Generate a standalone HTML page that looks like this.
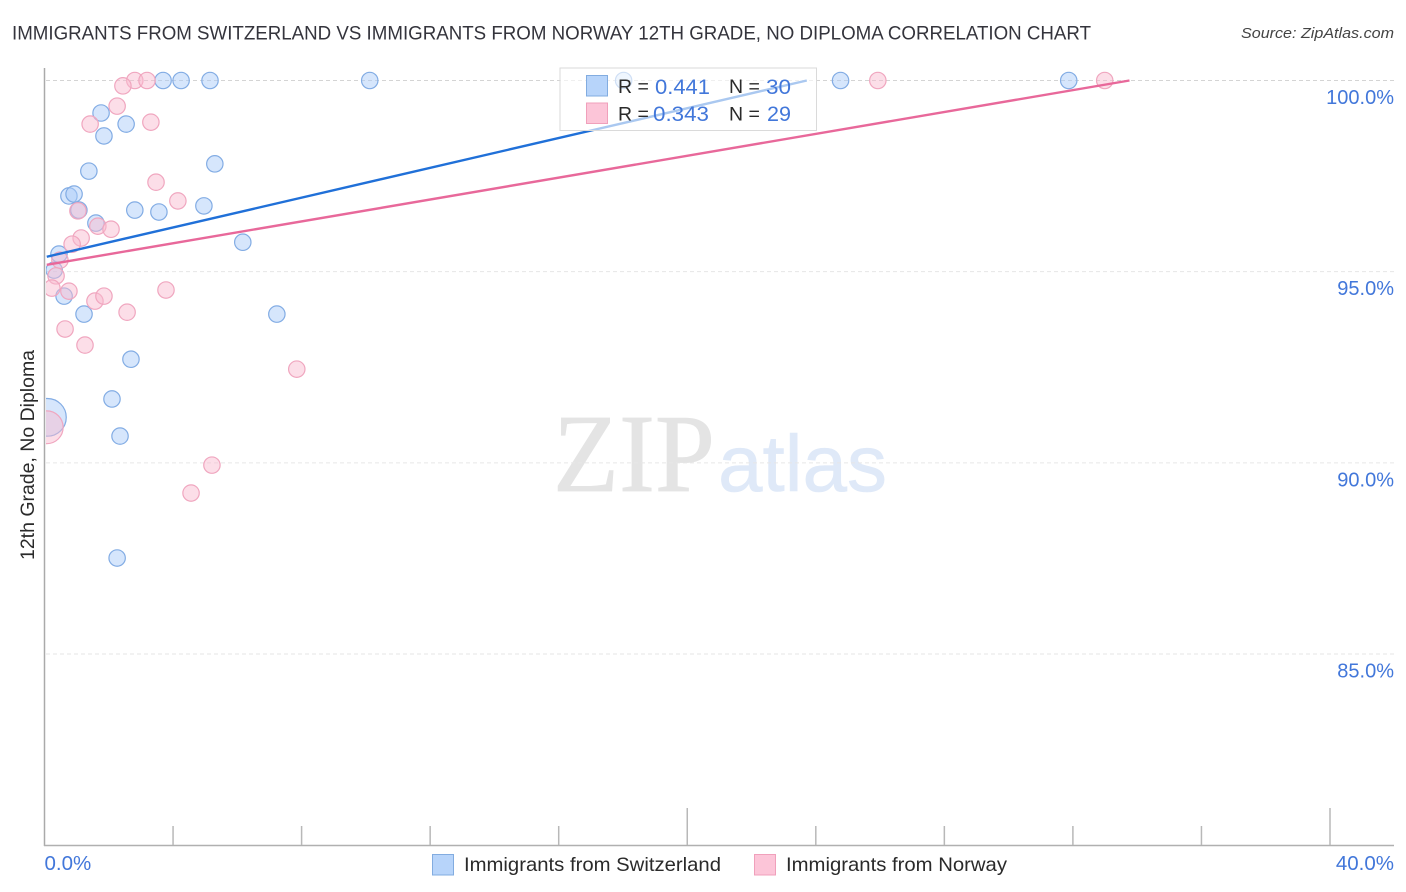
<!DOCTYPE html>
<html lang="en">
<head>
<meta charset="utf-8">
<title>Immigrants from Switzerland vs Immigrants from Norway 12th Grade, No Diploma Correlation Chart</title>
<style>
html,body{margin:0;padding:0;background:#fff;width:1406px;height:892px;overflow:hidden}
svg{display:block;font-family:"Liberation Sans",sans-serif}
</style>
</head>
<body>
<svg id="chart" xmlns="http://www.w3.org/2000/svg" width="1406" height="892" viewBox="0 0 1406 892">
  <defs><clipPath id="plot-clip"><rect x="46" y="60" width="1348" height="786"/></clipPath></defs>
  <text x="12" y="39.5" font-size="19.5" fill="#34343c" textLength="1079" lengthAdjust="spacingAndGlyphs">IMMIGRANTS FROM SWITZERLAND VS IMMIGRANTS FROM NORWAY 12TH GRADE, NO DIPLOMA CORRELATION CHART</text>
  <text x="1394" y="38" font-size="15" font-style="italic" fill="#444" text-anchor="end" textLength="153" lengthAdjust="spacingAndGlyphs">Source: ZipAtlas.com</text>
  <g>
    <text x="553" y="491" font-family="'Liberation Serif',serif" font-size="111" fill="#e4e4e4" stroke="#e4e4e4" stroke-width="0.8" textLength="162" lengthAdjust="spacingAndGlyphs">ZIP</text>
    <text x="718" y="491" font-size="80" fill="#dfe9f8" stroke="#dfe9f8" stroke-width="0.6" textLength="169" lengthAdjust="spacingAndGlyphs">atlas</text>
  </g>
  <g id="grid"></g>
  <g id="points" clip-path="url(#plot-clip)"></g>
  <rect x="0" y="60" width="45.5" height="786" fill="#fff"/>
  <g id="axes"></g>
  <g id="trends"></g>
  <text transform="translate(34,455) rotate(-90)" font-size="19" fill="#2a2a2a" text-anchor="middle" textLength="210" lengthAdjust="spacingAndGlyphs">12th Grade, No Diploma</text>
  <g>
    <rect x="560" y="68" width="256.5" height="62.5" fill="#fff" fill-opacity="0.62" stroke="#dadada" stroke-width="1"/>
    <rect x="586.5" y="75.5" width="21" height="20.5" fill="#b7d4fa" stroke="#82ace0"/>
    <rect x="586.5" y="103" width="21" height="20.5" fill="#fcc5d8" stroke="#f0a0bb"/>
    <g font-size="19.5" fill="#2a2a2a">
      <text x="618" y="93">R =</text>
      <text x="618" y="120.5">R =</text>
      <text x="729" y="93">N =</text>
      <text x="729" y="120.5">N =</text>
    </g>
    <g font-size="21" fill="#4277da">
      <text x="655" y="94" textLength="55" lengthAdjust="spacingAndGlyphs">0.441</text>
      <text x="653" y="121" textLength="56" lengthAdjust="spacingAndGlyphs">0.343</text>
      <text x="766" y="94" textLength="25" lengthAdjust="spacingAndGlyphs">30</text>
      <text x="767" y="121" textLength="24" lengthAdjust="spacingAndGlyphs">29</text>
    </g>
  </g>
  <g>
    <rect x="432.5" y="854.5" width="21" height="20.5" fill="#b7d4fa" stroke="#82ace0"/>
    <text x="464" y="871" font-size="19.5" fill="#2a2a2a" textLength="257" lengthAdjust="spacingAndGlyphs">Immigrants from Switzerland</text>
    <rect x="754.5" y="854.5" width="21" height="20.5" fill="#fcc5d8" stroke="#f0a0bb"/>
    <text x="786" y="871" font-size="19.5" fill="#2a2a2a" textLength="221" lengthAdjust="spacingAndGlyphs">Immigrants from Norway</text>
  </g>
</svg>
<script>
const yTickValues = [100, 95, 90, 85];
const yTickLabels = ["100.0%", "95.0%", "90.0%", "85.0%"];
const xTickValues = [0, 4, 8, 12, 16, 20, 24, 28, 32, 36, 40];
const xEndLabels = ["0.0%", "40.0%"];

const switzerlandX = [3.69, 4.25, 5.15, 10.12, 18.02, 24.77, 31.87, 1.76, 2.54, 1.85, 1.38, 5.30, 0.76, 0.92, 1.07, 2.81, 3.56, 4.96, 1.60, 6.17, 0.45, 0.30, 0.61, 1.23, 7.23, 2.69, 2.10, 2.35, 2.26, 0.09];
const switzerlandY = [100, 100, 100, 100, 100, 100, 100, 99.15, 98.86, 98.55, 97.63, 97.82, 96.98, 97.03, 96.61, 96.61, 96.56, 96.72, 96.27, 95.77, 95.46, 95.04, 94.36, 93.89, 93.89, 92.71, 91.67, 90.70, 87.51, 91.19];
const switzerlandWeight = [1, 1, 1, 1, 1, 1, 1, 1, 1, 1, 1, 1, 1, 1, 1, 1, 1, 1, 1, 1, 1, 1, 1, 1, 1, 1, 1, 1, 1, 5.29];

const norwayX = [25.93, 32.99, 2.81, 3.19, 2.44, 2.26, 1.42, 3.31, 3.47, 4.15, 1.04, 1.66, 2.07, 1.14, 0.86, 0.48, 0.36, 0.23, 0.76, 1.57, 1.85, 3.78, 2.57, 0.64, 1.26, 7.85, 5.21, 4.56, 0.07];
const norwayY = [100, 100, 100, 100, 99.86, 99.33, 98.86, 98.91, 97.34, 96.85, 96.59, 96.19, 96.11, 95.88, 95.72, 95.30, 94.89, 94.57, 94.49, 94.23, 94.36, 94.52, 93.94, 93.50, 93.08, 92.45, 89.94, 89.21, 90.93];
const norwayWeight = [1, 1, 1, 1, 1, 1, 1, 1, 1, 1, 1, 1, 1, 1, 1, 1, 1, 1, 1, 1, 1, 1, 1, 1, 1, 1, 1, 1, 4];

const switzerlandTrendX = [0.07, 23.72];
const switzerlandTrendY = [95.39, 100];
const norwayTrendX = [0.07, 33.76];
const norwayTrendY = [95.18, 100];

const SVGNS = "http://www.w3.org/2000/svg";
function xScale(v) { return 44.5 + v * (1330 - 44.5) / 40; }
function yScale(v) { return 80.5 + (100 - v) * (654 - 80.5) / 15; }
function radius(w) { return 8.2 * Math.sqrt(w); }
function mk(parent, tag, attrs, text) {
  const el = document.createElementNS(SVGNS, tag);
  for (const k in attrs) el.setAttribute(k, attrs[k]);
  if (text !== undefined) el.textContent = text;
  parent.appendChild(el);
  return el;
}

const grid = document.getElementById("grid");
const axes = document.getElementById("axes");
const pts = document.getElementById("points");
const trends = document.getElementById("trends");

yTickValues.forEach(function (v, i) {
  const line = mk(grid, "line", {x1: 46, x2: 1394, y1: yScale(v), y2: yScale(v), stroke: i === 0 ? "#d4d4d4" : "#e6e6e6", "stroke-width": 1, "stroke-dasharray": "4 3"});
  
  
  const label = mk(axes, "text", {x: 1394, y: yScale(v) + 23.5, "font-size": 20, fill: "#4277da", "text-anchor": "end"}, yTickLabels[i]);
  
  
});

const yAxis = mk(axes, "line", {x1: 44.5, x2: 44.5, y1: 68, y2: 846, stroke: "#aaaaaa", "stroke-width": 1.5});


const xAxis = mk(axes, "line", {x1: 44, x2: 1394, y1: 845.5, y2: 845.5, stroke: "#b0b0b0", "stroke-width": 1.5});



xTickValues.forEach(function (v) {
  if (v === 0) return;
  const major = v % 20 === 0;
  const tick = mk(axes, "line", {x1: xScale(v), x2: xScale(v), y1: major ? 808 : 826, y2: 845, stroke: "#b8b8b8", "stroke-width": 1.5});
  
  
});

const xLabelStart = mk(axes, "text", {x: xScale(xTickValues[0]), y: 870, "font-size": 20.5, fill: "#4277da"}, xEndLabels[0]);


const xLabelEnd = mk(axes, "text", {x: 1394, y: 870, "font-size": 20.5, fill: "#4277da", "text-anchor": "end"}, xEndLabels[1]);



switzerlandX.forEach(function (v, i) {
  const c = mk(pts, "circle", {cx: xScale(v), cy: yScale(switzerlandY[i]), r: radius(switzerlandWeight[i]), fill: "#a9cbf8", "fill-opacity": 0.48, stroke: "#82ace4", "stroke-width": 1.2});
  
  
});
norwayX.forEach(function (v, i) {
  const c = mk(pts, "circle", {cx: xScale(v), cy: yScale(norwayY[i]), r: radius(norwayWeight[i]), fill: "#f9b9cf", "fill-opacity": 0.48, stroke: "#f0a6bf", "stroke-width": 1.2});
  
  
});

const trendBlue = mk(trends, "line", {x1: xScale(switzerlandTrendX[0]), y1: yScale(switzerlandTrendY[0]), x2: xScale(switzerlandTrendX[1]), y2: yScale(switzerlandTrendY[1]), stroke: "#2070d8", "stroke-width": 2.4});


const trendPink = mk(trends, "line", {x1: xScale(norwayTrendX[0]), y1: yScale(norwayTrendY[0]), x2: xScale(norwayTrendX[1]), y2: yScale(norwayTrendY[1]), stroke: "#e8689a", "stroke-width": 2.4});


</script>
</body>
</html>
